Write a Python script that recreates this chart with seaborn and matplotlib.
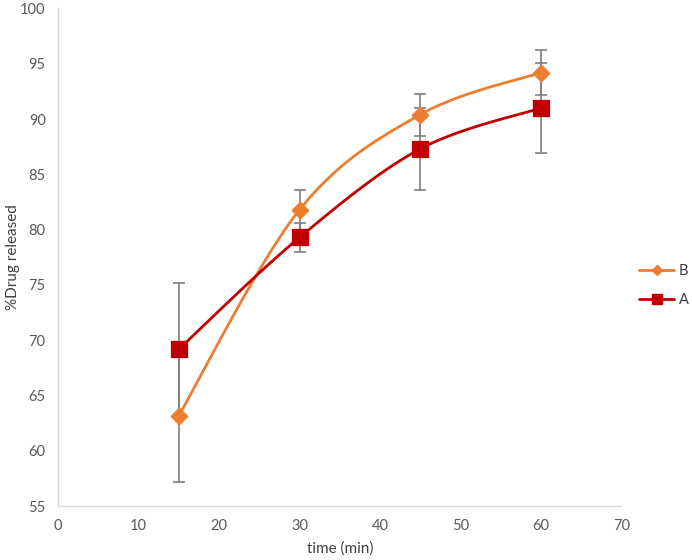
import numpy as np
import pandas as pd
import seaborn as sns
import matplotlib.pyplot as plt
from matplotlib.lines import Line2D

# data
time_min = [15, 30, 45, 60]
drug_b = [63.2, 81.8, 90.4, 94.2]
err_b = [6.0, 1.8, 1.9, 2.0]
drug_a = [69.2, 79.3, 87.3, 91.0]
err_a = [6.0, 1.3, 3.7, 4.1]

color_b = "#ED7D31"
color_a = "#C00000"


def smooth_curve(x, y, n=40):
    # Catmull-Rom style smoothing, like Excel's "smoothed line"
    x = np.asarray(x, float)
    y = np.asarray(y, float)
    px = np.concatenate([[x[0]], x, [x[-1]]])
    py = np.concatenate([[y[0]], y, [y[-1]]])
    xs, ys = [], []
    t = np.linspace(0, 1, n)
    for i in range(1, len(px) - 2):
        p0, p1, p2, p3 = (np.array([px[j], py[j]]) for j in range(i - 1, i + 3))
        c1 = p1 + (p2 - p0) / 6
        c2 = p2 - (p3 - p1) / 6
        b = ((1 - t) ** 3)[:, None] * p1 + (3 * (1 - t) ** 2 * t)[:, None] * c1 \
            + (3 * (1 - t) * t ** 2)[:, None] * c2 + (t ** 3)[:, None] * p2
        xs.extend(b[:, 0])
        ys.extend(b[:, 1])
    return np.array(xs), np.array(ys)


sns.set_style("white")
plt.rcParams['font.family'] = ['Lato', 'DejaVu Sans']

fig = plt.figure(figsize=(6.92, 5.60), dpi=100)
ax = fig.add_axes([0.084, 0.096, 0.814, 0.889])

# error bars behind
ax.errorbar(time_min, drug_b, yerr=err_b, fmt="none", ecolor="#7f7f7f",
            elinewidth=1.2, capsize=4, capthick=1.2, zorder=1)
ax.errorbar(time_min, drug_a, yerr=err_a, fmt="none", ecolor="#7f7f7f",
            elinewidth=1.2, capsize=4, capthick=1.2, zorder=1)

for vals, col in [(drug_b, color_b), (drug_a, color_a)]:
    sx, sy = smooth_curve(time_min, vals)
    curve = pd.DataFrame({"x": sx, "y": sy})
    sns.lineplot(data=curve, x="x", y="y", sort=False, color=col,
                 linewidth=2, ax=ax, zorder=2)

sns.scatterplot(x=time_min, y=drug_b, marker="D", s=75, color=color_b,
                edgecolor=color_b, ax=ax, zorder=3)
sns.scatterplot(x=time_min, y=drug_a, marker="s", s=130, color=color_a,
                edgecolor=color_a, ax=ax, zorder=3)

ax.set_xlim(0, 70)
ax.set_ylim(55, 100)
ax.set_xticks(range(0, 71, 10))
ax.set_yticks(range(55, 101, 5))
ax.tick_params(axis="both", length=0, labelsize=10.5, colors="#595959", pad=9)
ax.set_xlabel("time (min)", fontsize=11, color="#404040", labelpad=6)
ax.set_ylabel("%Drug released", fontsize=11, color="#404040")
ax.yaxis.set_label_coords(-0.068, 0.5)

for s in ["top", "right"]:
    ax.spines[s].set_visible(False)
for s in ["left", "bottom"]:
    ax.spines[s].set_color("#d9d9d9")
    ax.spines[s].set_linewidth(1)

handles = [
    Line2D([], [], color=color_b, marker="D", markersize=5, linewidth=2),
    Line2D([], [], color=color_a, marker="s", markersize=7, linewidth=2),
]
fig.legend(handles, ["B", "A"], loc="center left", bbox_to_anchor=(0.905, 0.49),
           frameon=False, fontsize=10.5, labelcolor="#404040", handlelength=2.4,
           labelspacing=1.0, handletextpad=0.3)

fig.savefig("out.png", dpi=100)
